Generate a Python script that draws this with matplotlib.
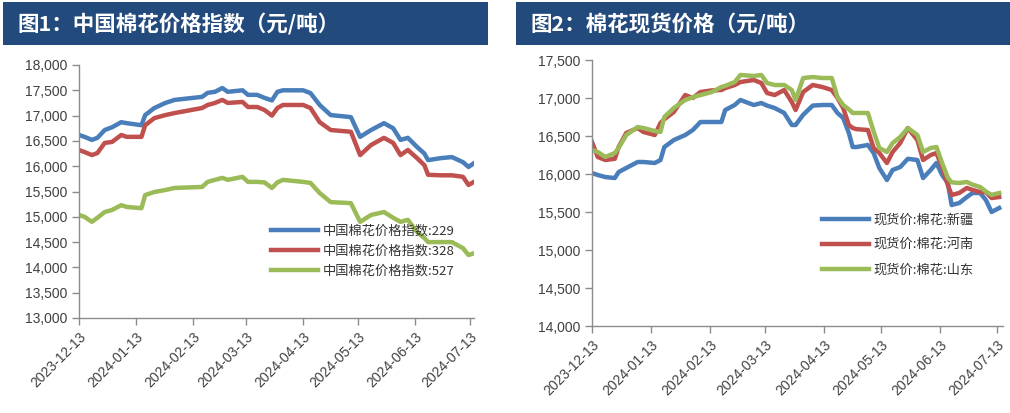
import matplotlib
matplotlib.use("Agg")
import matplotlib.pyplot as plt
import matplotlib.dates as mdates
from matplotlib.patches import Rectangle
from matplotlib.ticker import FuncFormatter, MultipleLocator
import pandas as pd

# ---------------- data: chart 1 (China cotton price index, yuan/ton) ----------------
dates1 = ["2023-12-13", "2023-12-16", "2023-12-20", "2023-12-23", "2023-12-27", "2023-12-31",
          "2024-01-05", "2024-01-08", "2024-01-16", "2024-01-18", "2024-01-23", "2024-01-29",
          "2024-02-03", "2024-02-18", "2024-02-21", "2024-02-25", "2024-02-29", "2024-03-03",
          "2024-03-11", "2024-03-14", "2024-03-19", "2024-03-23", "2024-03-27", "2024-03-30",
          "2024-04-02", "2024-04-13", "2024-04-17", "2024-04-22", "2024-04-28", "2024-05-09",
          "2024-05-14", "2024-05-20", "2024-05-27", "2024-06-01", "2024-06-05", "2024-06-09",
          "2024-06-14", "2024-06-18", "2024-06-20", "2024-06-27", "2024-07-03", "2024-07-09",
          "2024-07-12", "2024-07-15"]
cci_229 = [16617, 16580, 16520, 16560, 16715, 16770, 16870, 16850, 16810, 17010, 17150, 17250,
           17310, 17370, 17450, 17470, 17545, 17470, 17500, 17410, 17410, 17350, 17300, 17470,
           17500, 17500, 17445, 17210, 17010, 16970, 16580, 16715, 16850, 16750, 16520, 16560,
           16380, 16250, 16120, 16160, 16180, 16080, 15985, 16060]
cci_328 = [16320, 16280, 16220, 16260, 16460, 16480, 16617, 16580, 16580, 16810, 16950, 17010,
           17050, 17150, 17210, 17250, 17310, 17250, 17270, 17170, 17170, 17110, 17000, 17150,
           17210, 17210, 17150, 16870, 16715, 16680, 16220, 16420, 16560, 16460, 16220, 16320,
           16160, 16020, 15830, 15820, 15820, 15790, 15630, 15690]
cci_527 = [15036, 15000, 14900, 14980, 15095, 15135, 15230, 15195, 15170, 15430, 15490, 15530,
           15570, 15590, 15690, 15730, 15770, 15730, 15790, 15690, 15690, 15680, 15570, 15680,
           15730, 15690, 15670, 15470, 15290, 15270, 14900, 15036, 15095, 14980, 14900, 14940,
           14700, 14580, 14500, 14500, 14500, 14380, 14245, 14280]
labels1 = ["中国棉花价格指数:229", "中国棉花价格指数:328", "中国棉花价格指数:527"]

# ---------------- data: chart 2 (cotton spot prices, yuan/ton) ----------------
dates2 = ["2023-12-13", "2023-12-16", "2023-12-20", "2023-12-25", "2023-12-27", "2023-12-31",
          "2024-01-06", "2024-01-09", "2024-01-15", "2024-01-18", "2024-01-20", "2024-01-25",
          "2024-01-31", "2024-02-04", "2024-02-08", "2024-02-14", "2024-02-19", "2024-02-21",
          "2024-02-26", "2024-02-29", "2024-03-07", "2024-03-11", "2024-03-14", "2024-03-18",
          "2024-03-23", "2024-03-27", "2024-03-29", "2024-04-02", "2024-04-07", "2024-04-12",
          "2024-04-17", "2024-04-20", "2024-04-23", "2024-04-26", "2024-04-28", "2024-04-30",
          "2024-05-06", "2024-05-09", "2024-05-12", "2024-05-16", "2024-05-19", "2024-05-23",
          "2024-05-27", "2024-06-01", "2024-06-04", "2024-06-08", "2024-06-11", "2024-06-14",
          "2024-06-17", "2024-06-19", "2024-06-23", "2024-06-27", "2024-06-30", "2024-07-04",
          "2024-07-07", "2024-07-10", "2024-07-14"]
spot_xj = [16013, 15987, 15960, 15947, 16026, 16079, 16158, 16158, 16145, 16184, 16355, 16447,
           16513, 16579, 16684, 16684, 16684, 16842, 16908, 16974, 16908, 16934, 16900, 16868,
           16803, 16645, 16645, 16780, 16900, 16908, 16908, 16803, 16737, 16539, 16355, 16355,
           16382, 16276, 16079, 15921, 16053, 16092, 16200, 16184, 15947, 16053, 16145, 15987,
           15882, 15592, 15618, 15697, 15750, 15750, 15658, 15500, 15553]
spot_hn = [16421, 16224, 16184, 16200, 16355, 16540, 16605, 16553, 16513, 16671, 16720, 16816,
           17039, 17000, 17079, 17100, 17105, 17130, 17171, 17210, 17237, 17197, 17066, 17039,
           17105, 16947, 16842, 17079, 17171, 17145, 17105, 17000, 16868, 16645, 16605, 16590,
           16579, 16342, 16276, 16145, 16290, 16408, 16605, 16447, 16184, 16250, 16276, 16092,
           15855, 15724, 15750, 15816, 15790, 15763, 15763, 15684, 15697]
spot_sd = [16316, 16290, 16224, 16276, 16342, 16513, 16618, 16605, 16565, 16553, 16750, 16868,
           16974, 17010, 17039, 17079, 17145, 17160, 17210, 17303, 17290, 17303, 17197, 17171,
           17171, 17105, 16974, 17263, 17276, 17263, 17263, 17013, 16908, 16850, 16803, 16803,
           16803, 16560, 16342, 16290, 16408, 16487, 16605, 16513, 16290, 16342, 16355, 16145,
           15950, 15890, 15882, 15895, 15860, 15829, 15770, 15724, 15750]
labels2 = ["现货价:棉花:新疆", "现货价:棉花:河南", "现货价:棉花:山东"]

titles = ["图1：中国棉花价格指数（元/吨）", "图2：棉花现货价格（元/吨）"]
tick_dates = ["2023-12-13", "2024-01-13", "2024-02-13", "2024-03-13",
              "2024-04-13", "2024-05-13", "2024-06-13", "2024-07-13"]

# ---------------- styling ----------------
COLORS = ["#4a7ebb", "#c0504d", "#9bbb59"]
BANNER = "#234a7c"
CJK = ["Noto Sans CJK SC", "DejaVu Sans"]
NUMFONT = "Liberation Sans"
TXT = "#404040"

W, H = 1010, 413
fig = plt.figure(figsize=(W / 100, H / 100), dpi=100)


def px_rect(x0, y0, x1, y1):
    return [x0 / W, 1 - y1 / H, (x1 - x0) / W, (y1 - y0) / H]


# title banners
for (x0, x1), title in zip([(3, 488), (516, 1010)], titles):
    l, b, w, h = px_rect(x0, 2, x1, 45)
    fig.patches.append(Rectangle((l, b), w, h, transform=fig.transFigure,
                                 facecolor=BANNER, edgecolor="none", zorder=0))
    fig.text((x0 + 14) / W, 1 - 24 / H, title, color="white", fontsize=15.5,
             fontweight="bold", family=CJK, va="center", ha="left")


def style_axes(ax, ylim, xlim_end):
    ax.set_ylim(*ylim)
    ax.yaxis.set_major_locator(MultipleLocator(500))
    ax.yaxis.set_major_formatter(FuncFormatter(lambda v, p: f"{v:,.0f}"))
    ax.set_xlim(pd.Timestamp("2023-12-13"), pd.Timestamp(xlim_end))
    ax.set_xticks(pd.to_datetime(tick_dates))
    ax.xaxis.set_major_formatter(mdates.DateFormatter("%Y-%m-%d"))
    for s in ["top", "right"]:
        ax.spines[s].set_visible(False)
    for s in ["left", "bottom"]:
        ax.spines[s].set_color("#8c8c8c")
        ax.spines[s].set_linewidth(1.0)
    ax.tick_params(axis="both", direction="out", length=5, width=1.0,
                   color="#8c8c8c", labelcolor=TXT, labelsize=10)
    for lab in ax.get_yticklabels():
        lab.set_family(NUMFONT)
    for lab in ax.get_xticklabels():
        lab.set_family(NUMFONT)
        lab.set_rotation(45)
        lab.set_ha("right")
        lab.set_rotation_mode("anchor")


# ---------------- chart 1 ----------------
ax1 = fig.add_axes(px_rect(79, 65, 474, 318))
d1 = pd.to_datetime(dates1)
for vals, c, lab in zip([cci_229, cci_328, cci_527], COLORS, labels1):
    ax1.plot(d1, vals, color=c, lw=3.2, label=lab, solid_joinstyle="round")
style_axes(ax1, (13000, 18000), "2024-07-15")
leg1 = ax1.legend(loc="upper left", bbox_to_anchor=(264 / W, 1 - 218 / H),
                  bbox_transform=fig.transFigure, frameon=False,
                  prop={"family": CJK, "size": 9.5}, handlelength=3.6,
                  handletextpad=0.35, labelspacing=0.55, borderpad=0)
for t in leg1.get_texts():
    t.set_color("#333333")

# ---------------- chart 2 ----------------
ax2 = fig.add_axes(px_rect(592, 60, 1003, 326))
d2 = pd.to_datetime(dates2)
for vals, c, lab in zip([spot_xj, spot_hn, spot_sd], COLORS, labels2):
    ax2.plot(d2, vals, color=c, lw=3.2, label=lab, solid_joinstyle="round")
style_axes(ax2, (14000, 17500), "2024-07-16")
leg2 = ax2.legend(loc="upper left", bbox_to_anchor=(815 / W, 1 - 207 / H),
                  bbox_transform=fig.transFigure, frameon=False,
                  prop={"family": CJK, "size": 9.5}, handlelength=3.6,
                  handletextpad=0.35, labelspacing=0.9, borderpad=0)
for t in leg2.get_texts():
    t.set_color("#333333")

fig.savefig("out.png", dpi=100)
